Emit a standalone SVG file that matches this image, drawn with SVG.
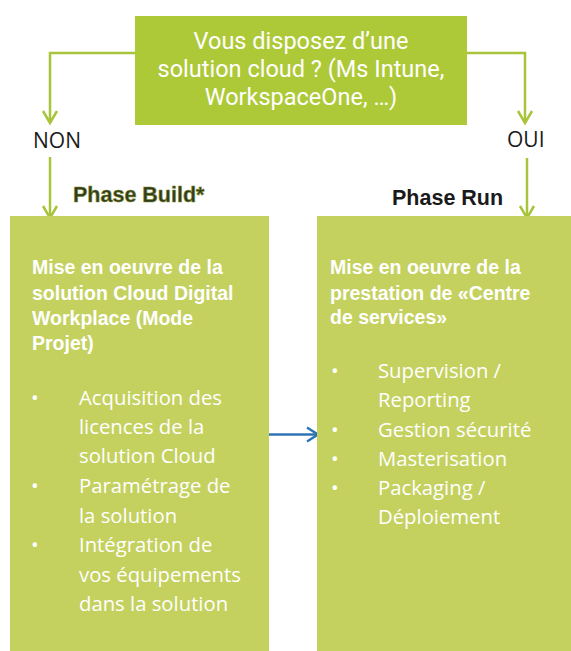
<svg xmlns="http://www.w3.org/2000/svg" width="571" height="651" viewBox="0 0 571 651">
<defs>
<style>
.q{font-family:Roboto,"Liberation Sans",sans-serif;font-size:23.5px;fill:#ffffff;text-anchor:middle}
.lbl{font-family:"Open Sans","Liberation Sans",sans-serif;font-size:21px;fill:#1a1a1a}
.ph{font-family:"Liberation Sans",Arial,sans-serif;font-size:21.5px;font-weight:bold}
.ttl{font-family:"Liberation Sans",Arial,sans-serif;font-size:19.5px;font-weight:bold;fill:#ffffff}
.body{font-family:"Open Sans","Liberation Sans",sans-serif;font-size:20.3px;fill:#ffffff}
.g{fill:none;stroke:#a8c43a;stroke-width:2.5}
</style>
<marker id="ag" markerUnits="userSpaceOnUse" markerWidth="20" markerHeight="20" refX="0" refY="0" viewBox="-14 -10 16 20" orient="auto">
<path d="M-12,-7 L0,0 L-12,7" fill="none" stroke="#a8c43a" stroke-width="2.5"/>
</marker>
<marker id="ab" markerUnits="userSpaceOnUse" markerWidth="20" markerHeight="20" refX="0" refY="0" viewBox="-14 -10 16 20" orient="auto">
<path d="M-11,-7 L0,0 L-11,7" fill="none" stroke="#2e74b5" stroke-width="2.5"/>
</marker>
</defs>
<rect width="571" height="651" fill="#ffffff"/>

<g id="connectors">
<path class="g" d="M135,53 H50 V123" marker-end="url(#ag)"/>
<path class="g" d="M467,53 H525 V123" marker-end="url(#ag)"/>
<path class="g" d="M50,157 V218" marker-end="url(#ag)"/>
<path class="g" d="M527,158 V218" marker-end="url(#ag)"/>
<path d="M269,434.5 H318" fill="none" stroke="#2e74b5" stroke-width="2.5" marker-end="url(#ab)"/>
</g>

<g id="question">
<rect x="135" y="16" width="332" height="109" fill="#aec937"/>
<text class="q" x="301" y="49">Vous disposez d’une</text>
<text class="q" x="301" y="77">solution cloud ? (Ms Intune,</text>
<text class="q" x="301" y="105">WorkspaceOne, …)</text>
</g>

<g id="label-non">
<text class="lbl" x="33" y="148">NON</text>
</g>
<g id="label-oui">
<text class="lbl" x="507" y="147">OUI</text>
</g>

<g id="phase-build">
<rect x="10" y="216" width="259" height="435" fill="#c4d15f"/>
<text class="ph" x="73" y="202" fill="#333a1c" stroke="#7d8f2c" stroke-width="0.6">Phase Build*</text>
<text class="ttl" x="32" y="274">Mise en oeuvre de la</text>
<text class="ttl" x="32" y="300">solution Cloud Digital</text>
<text class="ttl" x="32" y="325">Workplace (Mode</text>
<text class="ttl" x="32" y="350">Projet)</text>
<g class="body">
<text x="31" y="405">•</text><text x="79" y="405">Acquisition des</text>
<text x="79" y="434">licences de la</text>
<text x="79" y="463">solution Cloud</text>
<text x="31" y="493">•</text><text x="79" y="493">Paramétrage de</text>
<text x="79" y="523">la solution</text>
<text x="31" y="552">•</text><text x="79" y="552">Intégration de</text>
<text x="79" y="582">vos équipements</text>
<text x="79" y="611">dans la solution</text>
</g>
</g>

<g id="phase-run">
<rect x="317" y="216" width="254" height="435" fill="#c4d15f"/>
<text class="ph" x="392" y="205" fill="#1a1a1a">Phase Run</text>
<text class="ttl" x="330" y="274">Mise en oeuvre de la</text>
<text class="ttl" x="330" y="300">prestation de «Centre</text>
<text class="ttl" x="330" y="324">de services»</text>
<g class="body">
<text x="331" y="378">•</text><text x="378" y="378">Supervision /</text>
<text x="378" y="407">Reporting</text>
<text x="331" y="437">•</text><text x="378" y="437">Gestion sécurité</text>
<text x="331" y="466">•</text><text x="378" y="466">Masterisation</text>
<text x="331" y="495">•</text><text x="378" y="495">Packaging /</text>
<text x="378" y="524">Déploiement</text>
</g>
</g>
</svg>
